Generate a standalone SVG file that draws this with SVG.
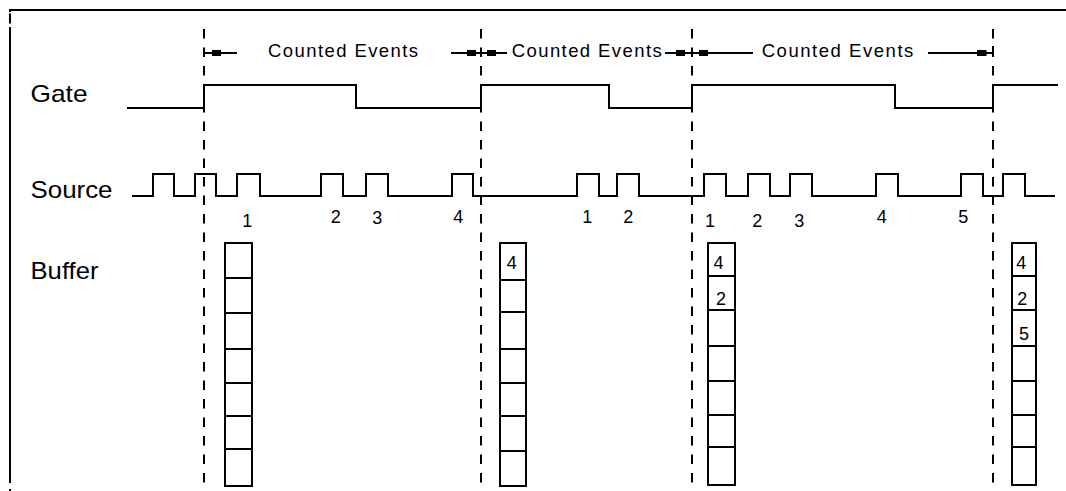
<svg xmlns="http://www.w3.org/2000/svg" width="1066" height="491" viewBox="0 0 1066 491">
<style>
  .ln { fill: none; stroke: #000; stroke-width: 2; }
  .dash { fill: none; stroke: #000; stroke-width: 2; stroke-dasharray: 9.5 9; }
  .lbl { font-family: "Liberation Sans", Arial, sans-serif; font-size: 24px; fill: #000; }
  .ann { font-family: "Liberation Sans", Arial, sans-serif; font-size: 18.5px; fill: #000; }
  .num { font-family: "Liberation Sans", Arial, sans-serif; font-size: 18px; fill: #000; text-anchor: middle; }
  .cell { fill: #fff; stroke: #000; stroke-width: 2; }
  .sq { fill: #000; }
</style>
<rect x="0" y="0" width="1066" height="491" fill="#fff"/>

<g id="frame">
  <line class="ln" x1="11" y1="10" x2="1066" y2="10"/>
  <line class="ln" x1="10" y1="9" x2="10" y2="12"/>
  <line class="ln" x1="10" y1="13.5" x2="10" y2="23.5"/>
  <line class="ln" x1="10" y1="27" x2="10" y2="483"/>
  <line class="ln" x1="10" y1="489" x2="10" y2="491"/>
</g>

<g id="labels">
  <text class="lbl" x="30.5" y="101.5" textLength="57" lengthAdjust="spacingAndGlyphs">Gate</text>
  <text class="lbl" x="30.5" y="197.5" textLength="82" lengthAdjust="spacingAndGlyphs">Source</text>
  <text class="lbl" x="30.5" y="278.5" textLength="68" lengthAdjust="spacingAndGlyphs">Buffer</text>
</g>

<g id="dashed-lines">
  <line class="dash" x1="204" y1="29" x2="204" y2="489"/>
  <line class="dash" x1="481" y1="29" x2="481" y2="489"/>
  <line class="dash" x1="692" y1="29" x2="692" y2="489"/>
  <line class="dash" x1="993" y1="29" x2="993" y2="489"/>
</g>

<g id="annotations">
  <line class="ln" x1="204" y1="49" x2="204" y2="57"/>
  <line class="ln" x1="204" y1="53" x2="237" y2="53"/>
  <rect class="sq" x="212" y="50" width="9" height="6"/>
  <text class="ann" x="268" y="57" textLength="150" lengthAdjust="spacing">Counted Events</text>

  <line class="ln" x1="451" y1="53" x2="507" y2="53"/>
  <line class="ln" x1="481" y1="49" x2="481" y2="57"/>
  <rect class="sq" x="467" y="50" width="9" height="6"/>
  <rect class="sq" x="487" y="50" width="9" height="6"/>
  <text class="ann" x="511.7" y="57" textLength="150" lengthAdjust="spacing">Counted Events</text>

  <line class="ln" x1="665" y1="53" x2="753" y2="53"/>
  <line class="ln" x1="692" y1="49" x2="692" y2="57"/>
  <rect class="sq" x="676" y="50" width="9" height="6"/>
  <rect class="sq" x="699" y="50" width="9" height="6"/>
  <text class="ann" x="761.7" y="57" textLength="151.6" lengthAdjust="spacing">Counted Events</text>

  <line class="ln" x1="928" y1="53" x2="993" y2="53"/>
  <line class="ln" x1="993" y1="46" x2="993" y2="54"/>
  <rect class="sq" x="977" y="50" width="9.5" height="6"/>
</g>

<g id="gate-signal">
  <path class="ln" d="M127,108 H204 V85 H356 V108 H481 V85 H609 V108 H692 V85 H895 V108 H993 V85 H1058"/>
</g>

<g id="source-signal">
  <path class="ln" d="M132,196 H153 V174 H174 V196 H195 V174 H216 V196 H237 V174 H260 V196 H321 V174 H343 V196 H366 V174 H388 V196 H452 V174 H473 V196 H577 V174 H599 V196 H617 V174 H639 V196 H704 V174 H726 V196 H748 V174 H770 V196 H790 V174 H812 V196 H876 V174 H898 V196 H961 V174 H983 V196 H1003 V174 H1025 V196 H1055"/>
</g>

<g id="source-counts">
  <text class="num" x="247.3" y="226.5">1</text>
  <text class="num" x="335.7" y="223.3">2</text>
  <text class="num" x="377.3" y="224">3</text>
  <text class="num" x="458.3" y="223.3">4</text>
  <text class="num" x="587.3" y="223.3">1</text>
  <text class="num" x="628.3" y="223.3">2</text>
  <text class="num" x="710" y="226.5">1</text>
  <text class="num" x="757.3" y="226.5">2</text>
  <text class="num" x="799.3" y="226.5">3</text>
  <text class="num" x="881.7" y="223.3">4</text>
  <text class="num" x="963.3" y="223.3">5</text>
</g>

<g id="buffer-1">
  <rect class="cell" x="225" y="243" width="27" height="243"/>
  <path class="ln" d="M225,278 H252 M225,313 H252 M225,349 H252 M225,383 H252 M225,416 H252 M225,449 H252"/>
</g>

<g id="buffer-2">
  <rect class="cell" x="500" y="243" width="26" height="243"/>
  <path class="ln" d="M500,280 H526 M500,312 H526 M500,349 H526 M500,383 H526 M500,416 H526 M500,451 H526"/>
  <text class="num" x="511.7" y="269">4</text>
</g>

<g id="buffer-3">
  <rect class="cell" x="708" y="243" width="27" height="242"/>
  <path class="ln" d="M708,276 H735 M708,310 H735 M708,346 H735 M708,381 H735 M708,415 H735 M708,447 H735"/>
  <text class="num" x="718.5" y="269">4</text>
  <text class="num" x="721" y="305">2</text>
</g>

<g id="buffer-4">
  <rect class="cell" x="1012" y="243" width="24" height="242"/>
  <path class="ln" d="M1012,276 H1036 M1012,310 H1036 M1012,346 H1036 M1012,381 H1036 M1012,415 H1036 M1012,447 H1036"/>
  <text class="num" x="1021.3" y="269">4</text>
  <text class="num" x="1022.3" y="305">2</text>
  <text class="num" x="1024" y="340">5</text>
</g>
</svg>
